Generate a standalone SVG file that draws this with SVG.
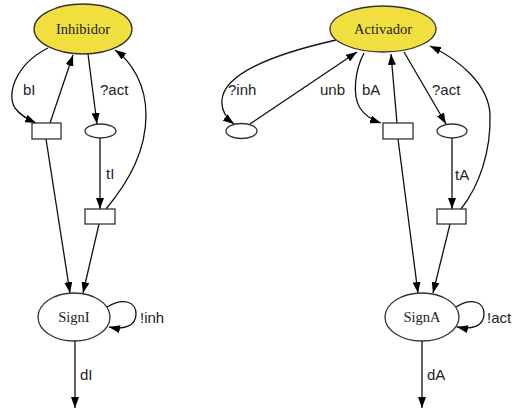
<svg xmlns="http://www.w3.org/2000/svg" width="515" height="412" viewBox="0 0 515 412">
  <style>
    .bg { fill: #ffffff; }
    .place { fill: #ffffff; stroke: #333333; stroke-width: 1.3; }
    .main { fill: #f0df3e; stroke: #333333; stroke-width: 1.3; }
    .trans { fill: #ffffff; stroke: #333333; stroke-width: 1.3; }
    .edge { fill: none; stroke: #111111; stroke-width: 1.3; marker-end: url(#arrow); }
    .nlabel { font-family: "Liberation Serif", "Times New Roman", serif; font-size: 14.5px; fill: #222222; text-anchor: middle; }
    .elabel { font-family: "Liberation Sans", Arial, sans-serif; font-size: 15px; fill: #222222; }
  </style>
  <defs>
    <marker id="arrow" markerUnits="userSpaceOnUse" markerWidth="11" markerHeight="8" refX="11" refY="4" orient="auto">
      <path d="M0,0 L11,4 L0,8 z" fill="#000000"/>
    </marker>
  </defs>
  <rect class="bg" x="0" y="0" width="515" height="412"/>

  <g id="connectors">
    <!-- Inhibidor net -->
    <path class="edge" d="M48,48 C16,64 6,94 15,108 C20,115 27,119 36,123"/>
    <path class="edge" d="M50,123 L73,55"/>
    <path class="edge" d="M88,54 L97,124"/>
    <path class="edge" d="M100,138 L100,209"/>
    <path class="edge" d="M106,209 C130,180 146,150 146,115 C146,85 132,62 115,50"/>
    <path class="edge" d="M46,139 L70,293"/>
    <path class="edge" d="M99,224 L83,293"/>
    <path class="edge" d="M107,307 C124,297 136,302 136,314 C136,326 124,330 109,327"/>
    <path class="edge" d="M75,341 L75,408"/>
    <!-- Activador net -->
    <path class="edge" d="M336,40 C270,55 224,75 222,100 C221,110 226,118 234,124"/>
    <path class="edge" d="M250,124 L357,52"/>
    <path class="edge" d="M364,53 C355,70 352,95 360,108 C365,116 372,120 381,123"/>
    <path class="edge" d="M397,123 L391,54"/>
    <path class="edge" d="M404,52 L446,124"/>
    <path class="edge" d="M452,138 L452,209"/>
    <path class="edge" d="M461,209 C480,185 491,150 490,115 C489,85 460,60 430,46"/>
    <path class="edge" d="M398,139 L418,293"/>
    <path class="edge" d="M450,224 L433,293"/>
    <path class="edge" d="M456,307 C472,297 484,302 484,314 C484,326 472,330 457,327"/>
    <path class="edge" d="M422,341 L422,408"/>
  </g>

  <g id="edge-labels">
    <text class="elabel" x="23" y="95">bI</text>
    <text class="elabel" x="100" y="95">?act</text>
    <text class="elabel" x="106" y="179">tI</text>
    <text class="elabel" x="140" y="323">!inh</text>
    <text class="elabel" x="80" y="380">dI</text>
    <text class="elabel" x="228" y="95">?inh</text>
    <text class="elabel" x="320" y="95">unb</text>
    <text class="elabel" x="362" y="95">bA</text>
    <text class="elabel" x="432" y="95">?act</text>
    <text class="elabel" x="455" y="180">tA</text>
    <text class="elabel" x="487" y="323">!act</text>
    <text class="elabel" x="427" y="380">dA</text>
  </g>

  <g id="Inhibidor">
    <ellipse class="main" cx="83" cy="29" rx="49" ry="25"/>
    <text class="nlabel" x="83" y="34">Inhibidor</text>
  </g>
  <g id="bI">
    <rect class="trans" x="32" y="123" width="29" height="16"/>
  </g>
  <g id="actI">
    <ellipse class="place" cx="100.5" cy="131" rx="15.5" ry="7"/>
  </g>
  <g id="tI">
    <rect class="trans" x="85" y="209" width="30" height="15"/>
  </g>
  <g id="SignI">
    <ellipse class="place" cx="74" cy="317" rx="36" ry="24"/>
    <text class="nlabel" x="74" y="322">SignI</text>
  </g>

  <g id="Activador">
    <ellipse class="main" cx="383" cy="29" rx="53" ry="23"/>
    <text class="nlabel" x="383" y="34">Activador</text>
  </g>
  <g id="inhA">
    <ellipse class="place" cx="241.5" cy="131" rx="15.5" ry="7.5"/>
  </g>
  <g id="bA">
    <rect class="trans" x="383" y="123" width="30" height="16"/>
  </g>
  <g id="actA">
    <ellipse class="place" cx="452" cy="131" rx="15" ry="7"/>
  </g>
  <g id="tA">
    <rect class="trans" x="437" y="209" width="29" height="15"/>
  </g>
  <g id="SignA">
    <ellipse class="place" cx="422" cy="317" rx="37" ry="24"/>
    <text class="nlabel" x="422" y="322">SignA</text>
  </g>
</svg>
